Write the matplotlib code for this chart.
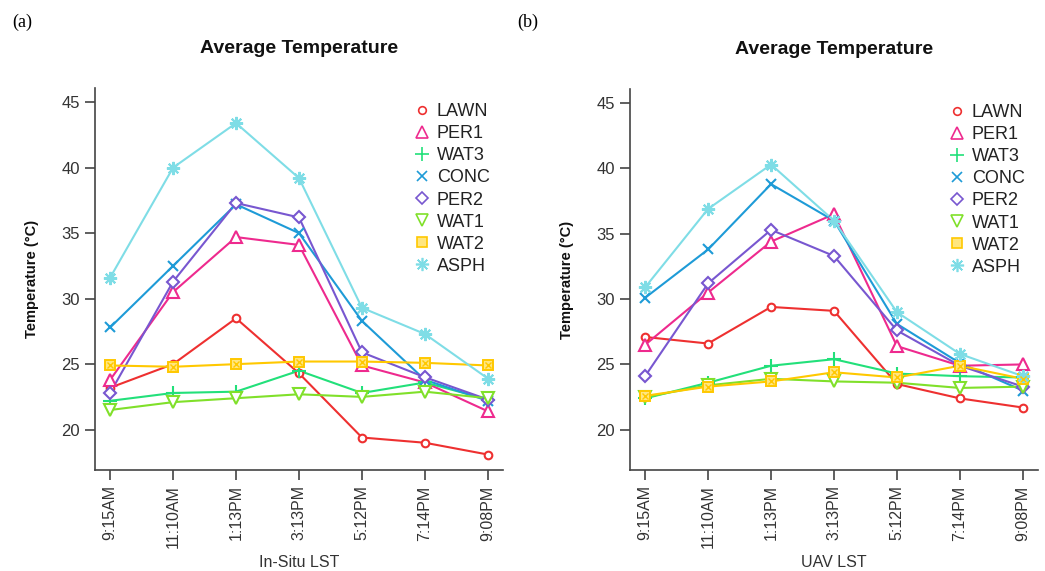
import matplotlib
matplotlib.use("Agg")
import matplotlib.pyplot as plt
from matplotlib.lines import Line2D

plt.rcParams['font.family'] = ['Liberation Sans', 'DejaVu Sans']

times = ["9:15AM", "11:10AM", "1:13PM", "3:13PM", "5:12PM", "7:14PM", "9:08PM"]
series = ["LAWN", "PER1", "WAT3", "CONC", "PER2", "WAT1", "WAT2", "ASPH"]

# (a) In-Situ LST
insitu_LAWN = [23.2, 25.0, 28.5, 24.3, 19.4, 19.0, 18.1]
insitu_PER1 = [23.8, 30.5, 34.7, 34.1, 24.9, 23.6, 21.4]
insitu_WAT3 = [22.2, 22.8, 22.9, 24.5, 22.8, 23.6, 22.3]
insitu_CONC = [27.8, 32.5, 37.2, 35.0, 28.3, 23.8, 22.2]
insitu_PER2 = [22.8, 31.3, 37.3, 36.2, 25.9, 24.0, 22.3]
insitu_WAT1 = [21.5, 22.1, 22.4, 22.7, 22.5, 22.9, 22.4]
insitu_WAT2 = [24.9, 24.8, 25.0, 25.2, 25.2, 25.1, 24.9]
insitu_ASPH = [31.6, 40.0, 43.4, 39.2, 29.3, 27.3, 23.9]

# (b) UAV LST
uav_LAWN = [27.1, 26.6, 29.4, 29.1, 23.5, 22.4, 21.7]
uav_PER1 = [26.5, 30.5, 34.4, 36.5, 26.4, 24.9, 25.0]
uav_WAT3 = [22.4, 23.6, 24.9, 25.4, 24.3, 24.1, 24.0]
uav_CONC = [30.1, 33.8, 38.8, 36.0, 28.1, 25.1, 23.0]
uav_PER2 = [24.1, 31.2, 35.3, 33.3, 27.6, 24.9, 23.3]
uav_WAT1 = [22.5, 23.4, 23.9, 23.7, 23.6, 23.2, 23.3]
uav_WAT2 = [22.6, 23.3, 23.7, 24.4, 24.0, 24.9, 23.9]
uav_ASPH = [30.9, 36.9, 40.3, 36.0, 29.0, 25.8, 24.1]

panel_a = [insitu_LAWN, insitu_PER1, insitu_WAT3, insitu_CONC,
           insitu_PER2, insitu_WAT1, insitu_WAT2, insitu_ASPH]
panel_b = [uav_LAWN, uav_PER1, uav_WAT3, uav_CONC,
           uav_PER2, uav_WAT1, uav_WAT2, uav_ASPH]

colors = ["#EE3030", "#EE2A8E", "#22E07A", "#1E9BD7",
          "#7857D0", "#80E02A", "#FFC800", "#7FDDE6"]
markers = ["o", "^", "+", "x", "D", "v", "s", (8, 2, 0)]
msizes = [5.5, 8.5, 9.5, 7.5, 6.5, 8.5, 6.5, 9.5]

fig = plt.figure(figsize=(10.45, 5.71), dpi=100)
W, H = 1045, 571

def make_axes(x0, x1, y_top, y_bot):
    return fig.add_axes([x0 / W, 1 - y_bot / H, (x1 - x0) / W, (y_bot - y_top) / H])

axes = [make_axes(95, 503, 88, 470), make_axes(630, 1038, 89, 470)]
panels = [panel_a, panel_b]
xlabels = ["In-Situ LST", "UAV LST"]
letters = ["(a)", "(b)"]
letter_x = [12, 517]

xs = list(range(1, len(times) + 1))
tick_color = "#333333"

for ax, data, xl, let, lx in zip(axes, panels, xlabels, letters, letter_x):
    for vals, c, m, ms in zip(data, colors, markers, msizes):
        ax.plot(xs, vals, color=c, lw=1.5, zorder=2)
        if m == "s":
            ax.plot(xs, vals, ls="none", marker="s", ms=ms, mfc="#FFE680",
                    mec=c, mew=1.4, zorder=3)
            ax.plot(xs, vals, ls="none", marker="x", ms=ms * 0.7, mec=c,
                    mew=1.0, zorder=4)
        elif m in ("+", "x", (8, 2, 0)):
            ax.plot(xs, vals, ls="none", marker=m, ms=ms, mec=c, mew=1.5, zorder=3)
        else:
            ax.plot(xs, vals, ls="none", marker=m, ms=ms, mfc="white",
                    mec=c, mew=1.5, zorder=3)

    ax.set_xlim(0.76, 7.24)
    ax.set_ylim(16.92, 46.08)
    ax.set_xticks(xs)
    ax.set_xticklabels(times, rotation=90, fontsize=11.5, color=tick_color)
    ax.set_yticks([20, 25, 30, 35, 40, 45])
    ax.set_yticklabels(["20", "25", "30", "35", "40", "45"], fontsize=12,
                       color=tick_color)
    ax.tick_params(direction="out", length=7, width=1.2, colors="#444444",
                   labelcolor=tick_color, pad=4)
    for s in ["top", "right"]:
        ax.spines[s].set_visible(False)
    for s in ["left", "bottom"]:
        ax.spines[s].set_color("#444444")
        ax.spines[s].set_linewidth(1.2)
    ax.set_xlabel(xl, fontsize=11.5, color=tick_color, labelpad=5)
    ax.set_ylabel("Temperature (°C)", fontsize=10.5, fontweight="bold",
                  color="#111111", labelpad=16)
    ax.set_title("Average Temperature", fontsize=14, fontweight="bold",
                 color="#111111", pad=25)

    handles = []
    for c, m, ms in zip(colors, markers, msizes):
        if m == "s":
            handles.append(Line2D([], [], ls="none", marker="s", ms=6.5,
                                  mfc="#FFE680", mec=c, mew=1.2))
        elif m in ("+", "x", (8, 2, 0)):
            handles.append(Line2D([], [], ls="none", marker=m, ms=ms,
                                  mec=c, mew=1.2))
        else:
            handles.append(Line2D([], [], ls="none", marker=m, ms=ms,
                                  mfc="none", mec=c, mew=1.2))
    leg = ax.legend(handles, series, loc="upper left",
                    bbox_to_anchor=(0.78, 0.96), frameon=False,
                    fontsize=13, handlelength=1.0, handletextpad=0.3,
                    labelspacing=0.28, borderpad=0, borderaxespad=0)
    for t in leg.get_texts():
        t.set_color("#222222")

    fig.text(lx / W, 1 - 22 / H, let, fontsize=13, family="Liberation Serif",
             va="center", ha="left")

fig.savefig("out.png", dpi=100)
